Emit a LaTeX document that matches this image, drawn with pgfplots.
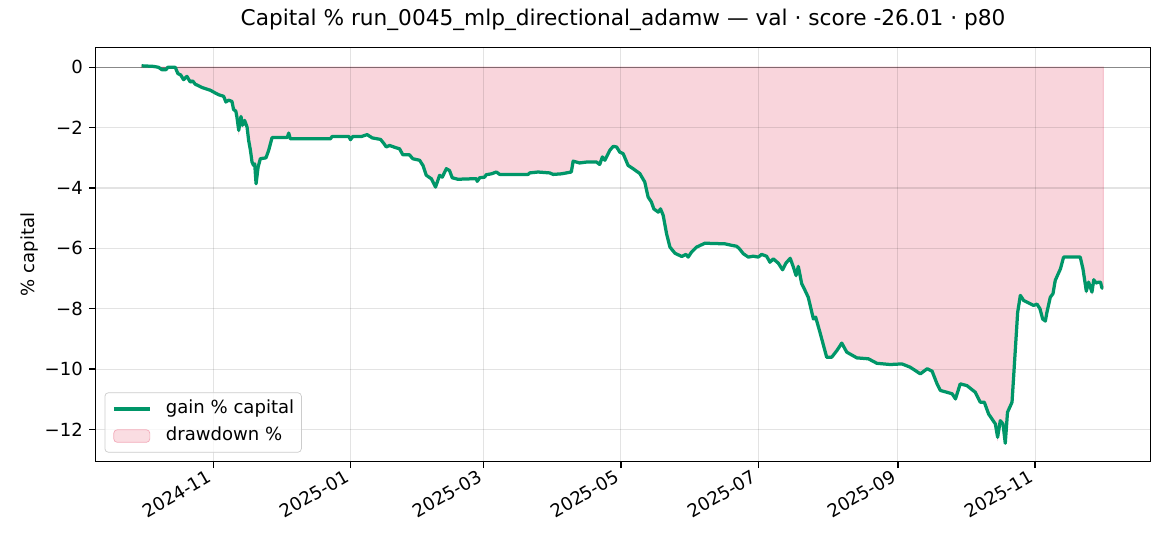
\documentclass[border=0pt]{standalone}
\usepackage{fontspec}
\setmainfont{DejaVu Sans}
\usepackage{pgfplots}
\pgfplotsset{compat=1.18}
\usepackage{pgfplotstable}

\definecolor{gaingreen}{RGB}{0,150,104}
\definecolor{ddred}{RGB}{220,20,60}
\definecolor{ddfill}{RGB}{249,213,220}
\definecolor{ddedge}{RGB}{246,196,207}

% day 0 = 2024-11-01, gain in % of capital
\pgfplotstableread{
day gain
-31.8 0.05
-26.5 0.03
-24.3 0.00
-22.8 -0.08
-21.0 -0.08
-20.2 0.00
-16.9 0.00
-15.7 -0.21
-14.5 -0.25
-13.2 -0.41
-11.7 -0.30
-10.2 -0.49
-9.2 -0.45
-8.0 -0.56
-5.0 -0.67
-1.3 -0.76
0.1 -0.82
2.4 -0.91
4.6 -0.96
5.6 -1.15
6.8 -1.09
8.3 -1.13
9.0 -1.40
10.0 -1.45
10.5 -1.65
11.3 -2.09
12.3 -1.63
13.0 -1.92
13.9 -1.76
15.0 -1.98
15.7 -2.42
16.5 -2.75
17.2 -3.14
17.9 -3.25
18.4 -3.20
19.0 -3.86
19.9 -3.31
20.9 -3.03
23.4 -3.00
24.6 -2.75
26.1 -2.33
32.8 -2.33
33.5 -2.18
34.2 -2.37
52.0 -2.37
52.8 -2.29
60.2 -2.29
60.9 -2.40
62.0 -2.29
66.0 -2.29
68.3 -2.23
70.6 -2.34
74.3 -2.39
75.8 -2.53
76.8 -2.64
78.3 -2.59
80.9 -2.66
82.7 -2.70
84.2 -2.90
87.1 -2.90
88.6 -3.03
91.6 -3.08
93.1 -3.25
94.6 -3.58
96.8 -3.69
98.7 -3.97
100.5 -3.58
101.7 -3.64
103.5 -3.36
104.9 -3.42
106.1 -3.66
108.6 -3.71
116.8 -3.69
117.2 -3.78
118.3 -3.66
120.5 -3.64
121.2 -3.56
123.5 -3.53
125.7 -3.47
127.2 -3.55
139.8 -3.55
140.5 -3.50
144.2 -3.47
149.4 -3.50
150.9 -3.55
154.6 -3.53
159.0 -3.47
159.8 -3.11
162.7 -3.17
165.7 -3.14
170.2 -3.14
171.6 -3.22
172.8 -2.97
173.9 -3.08
176.1 -2.75
177.6 -2.62
179.1 -2.64
180.5 -2.81
182.0 -2.86
184.2 -3.25
186.4 -3.36
189.4 -3.52
191.6 -3.80
193.1 -4.30
194.6 -4.47
195.6 -4.69
197.6 -4.80
198.6 -4.69
199.8 -4.91
201.3 -5.52
202.8 -5.96
205.0 -6.16
208.0 -6.27
209.9 -6.20
210.9 -6.29
212.4 -6.12
214.6 -5.96
218.3 -5.83
227.2 -5.85
230.2 -5.90
232.4 -5.93
233.6 -6.01
235.4 -6.18
237.6 -6.29
239.8 -6.26
242.0 -6.29
243.5 -6.20
245.7 -6.26
247.2 -6.46
248.7 -6.35
250.9 -6.49
252.8 -6.71
254.3 -6.49
256.2 -6.33
257.6 -6.62
258.8 -6.90
259.8 -6.60
261.3 -7.17
262.5 -7.35
264.2 -7.62
266.5 -8.34
267.5 -8.28
269.4 -8.78
272.4 -9.61
274.6 -9.61
276.9 -9.39
279.1 -9.14
281.3 -9.44
285.8 -9.63
290.9 -9.66
294.7 -9.81
300.6 -9.85
305.8 -9.83
309.5 -9.94
314.0 -10.16
317.0 -9.99
319.2 -10.07
321.4 -10.49
322.9 -10.71
325.8 -10.77
328.1 -10.82
329.6 -10.99
331.7 -10.49
334.7 -10.55
338.4 -10.77
340.6 -11.10
342.4 -11.10
344.3 -11.49
347.3 -11.82
348.3 -12.26
349.5 -11.71
350.7 -11.82
351.7 -12.46
352.7 -11.43
354.7 -11.10
355.4 -10.27
357.2 -8.12
358.4 -7.56
359.9 -7.73
364.3 -7.89
365.8 -7.85
367.1 -8.00
368.3 -8.34
369.5 -8.41
370.2 -8.12
371.7 -7.62
372.9 -7.50
373.9 -7.06
376.2 -6.68
377.6 -6.29
385.0 -6.29
386.2 -6.68
387.7 -7.42
388.7 -7.12
390.2 -7.45
391.0 -7.04
392.0 -7.15
393.1 -7.12
394.0 -7.12
394.6 -7.31
395.2 -7.32
}\capital

\begin{document}
\begin{tikzpicture}
\begin{axis}[
    set layers,
    scale only axis,
    width=584.3pt, height=229.5pt,
    xmin=-52.3, xmax=416.2,
    ymin=-13.07, ymax=0.663,
    xtick={0,61,120,181,242,304,365},
    xticklabels={2024-11,2025-01,2025-03,2025-05,2025-07,2025-09,2025-11},
    ytick={-12,-10,-8,-6,-4,-2,0},
    yticklabels={−12,−10,−8,−6,−4,−2,0},
    tick align=outside, tick pos=left,
    major tick length=3.5pt,
    every tick/.style={black, line width=0.8pt},
    axis line style={line width=0.8pt},
    grid=major,
    grid style={black, opacity=0.11, line width=0.6pt},
    /pgf/number format/assume math mode=true,
    tick label style={font=\fontsize{10}{12}\selectfont},
    xticklabel style={xshift=-3.5pt, yshift=1pt, rotate=30, anchor=north east, inner sep=1pt},
    title={Capital \% run\_0045\_mlp\_directional\_adamw — val · score -26.01 · p80},
    title style={font=\fontsize{12}{14}\selectfont, at={(0.5,1)}, anchor=base, yshift=6pt},
    ylabel={\% capital},
    ylabel style={font=\fontsize{10}{12}\selectfont, at={(axis description cs:-0.063,0.5)}, anchor=center},
    legend style={at={(0,0)}, anchor=south west, xshift=5pt, yshift=5pt,
        draw=black!20, rounded corners=2pt, fill=white, fill opacity=0.8,
        text opacity=1, draw opacity=1, inner xsep=4pt, inner ysep=4pt,
        font=\fontsize{10}{12}\selectfont, row sep=5pt, column sep=8pt,
        nodes={inner sep=0pt, text height=7.6pt, text depth=2.4pt}},
    legend cell align=left,
    legend image code/.code={\draw[#1] (0pt,0pt) -- (20pt,0pt);},
]

% drawdown area below the grid, as in the reference
\addplot[on layer=axis background, fill=ddfill, draw=ddedge, line width=0.8pt, forget plot]
    table[x=day, y=gain] {\capital} \closedcycle;

\addplot[black, opacity=0.4, line width=0.8pt, forget plot] coordinates {(-60,0) (425,0)};

\addplot[gaingreen, line width=1.8pt, line join=round]
    table[x=day, y=gain] {\capital};
\addlegendentry{gain \% capital}

\addlegendimage{legend image code/.code={\draw[fill=ddfill, draw=ddred!35] (0pt,-3.5pt) rectangle (20pt,3.5pt);}}
\addlegendentry{drawdown \%}

\end{axis}
\pgfresetboundingbox
\path ([xshift=-52.9pt, yshift=-46.7pt]current axis.south west)
    rectangle ([xshift=10.8pt, yshift=26.2pt]current axis.north east);
\end{tikzpicture}
\end{document}
